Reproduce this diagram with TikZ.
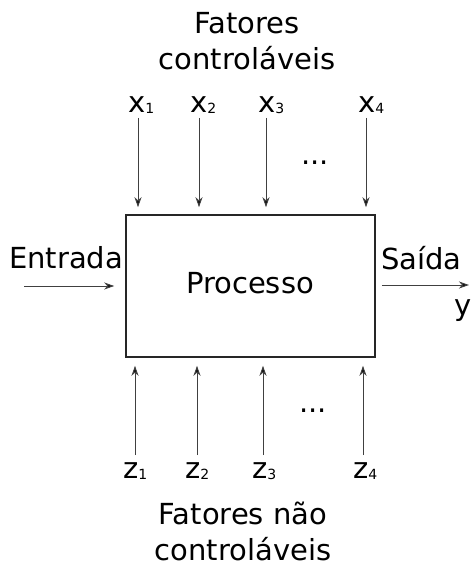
\documentclass[tikz,border=0pt]{standalone}
\usepackage{fontspec}
\setmainfont{DejaVu Sans}
\usetikzlibrary{arrows.meta}
\newcommand\subd[1]{\raisebox{-1pt}{\fontsize{14}{14}\selectfont #1}}
\tikzset{
  lbl/.style={inner sep=0pt, font=\fontsize{29}{36}\selectfont, anchor=base west},
  ttl/.style={inner sep=0pt, font=\fontsize{29}{36}\selectfont, align=center, anchor=north},
  arr/.style={draw=black!75, line width=1pt, -{Stealth[length=10pt,width=7pt,inset=3pt,fill=black]}},
  procbox/.style={draw=black!85, line width=1.5pt, rectangle, minimum width=249pt, minimum height=142pt, inner sep=0pt, font=\fontsize{29}{36}\selectfont}
}
\begin{document}
\begin{tikzpicture}[x=1pt,y=-1pt]
\useasboundingbox (0,0) rectangle (472,567);
% title
\node[ttl] (ttop) at (247,12) {Fatores\\controláveis};
\node[ttl] (tbot) at (243,502) {Fatores não\\controláveis};
% box
\node[procbox] (proc) at (250.5,286) {};
\node[lbl, anchor=base] (ptext) at (250,293) {Processo};
% top labels
\node[lbl] (x1) at (128,113) {x\subd{1}};
\node[lbl] (x2) at (190,113) {x\subd{2}};
\node[lbl] (x3) at (258,113) {x\subd{3}};
\node[lbl] (x4) at (358,113) {x\subd{4}};
\node[lbl] (dtop) at (301,164) {...};
% bottom labels
\node[lbl] (z1) at (123,478) {z\subd{1}};
\node[lbl] (z2) at (185,478) {z\subd{2}};
\node[lbl] (z3) at (252,478) {z\subd{3}};
\node[lbl] (z4) at (353,478) {z\subd{4}};
\node[lbl] (dbot) at (299,412) {...};
% side labels
\node[lbl] (ent) at (9,268) {Entrada};
\node[lbl] (sai) at (381,269) {Saída};
\node[lbl] (yl) at (454,315) {y};
% coordinates
\coordinate (a1) at (138,118);
\coordinate (a2) at (199,118);
\coordinate (a3) at (266,118);
\coordinate (a4) at (366,118);
\coordinate (b1) at (135,455);
\coordinate (b2) at (197,455);
\coordinate (b3) at (263,455);
\coordinate (b4) at (363,455);
\coordinate (ein) at (24,286);
\coordinate (yout) at (469,285);
% arrows
\foreach \c in {a1,a2,a3,a4}{
  \draw[arr, shorten >=7pt] (\c) -- (\c |- proc.north);
}
\foreach \c in {b1,b2,b3,b4}{
  \draw[arr, shorten >=8pt] (\c) -- (\c |- proc.south);
}
\draw[arr, shorten >=11pt] (ein) -- (ein -| proc.west);
\draw[arr, shorten <=6pt] (yout -| proc.east) -- (yout);
\end{tikzpicture}
\end{document}
